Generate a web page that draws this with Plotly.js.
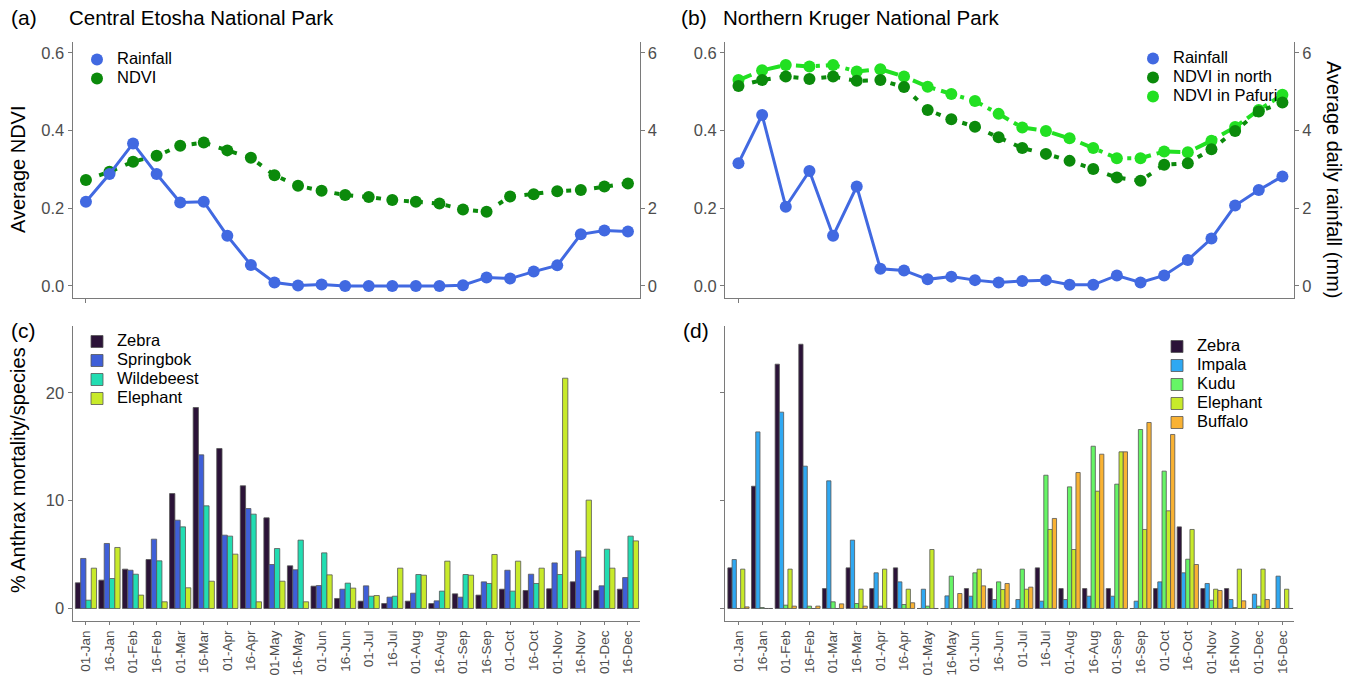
<!DOCTYPE html>
<html>
<head>
<meta charset="utf-8">
<script src="https://cdn.plot.ly/plotly-3.0.1.min.js"></script>
<style>html,body{margin:0;padding:0;background:#fff;}#chart{width:1351px;height:675px;}</style>
</head>
<body>
<div id="chart"></div>
<script>
// ---------- data ----------
const dates = ['01-Jan','16-Jan','01-Feb','16-Feb','01-Mar','16-Mar','01-Apr','16-Apr','01-May','16-May','01-Jun','16-Jun',
               '01-Jul','16-Jul','01-Aug','16-Aug','01-Sep','16-Sep','01-Oct','16-Oct','01-Nov','16-Nov','01-Dec','16-Dec'];

// Panel (a) Central Etosha
const etoshaRain = [2.17,2.88,3.67,2.88,2.15,2.17,1.29,0.54,0.09,0.01,0.04,0,0,0,0,0,0.02,0.22,0.19,0.37,0.53,1.33,1.43,1.40];
const etoshaNdvi = [0.273,0.294,0.320,0.335,0.361,0.369,0.349,0.330,0.285,0.258,0.245,0.234,0.229,0.221,0.217,0.212,0.197,0.191,0.230,0.236,0.244,0.247,0.256,0.264];

// Panel (b) Northern Kruger
const krugerRain = [3.16,4.40,2.04,2.96,1.29,2.56,0.44,0.40,0.17,0.24,0.15,0.09,0.13,0.15,0.03,0.03,0.27,0.09,0.27,0.67,1.22,2.07,2.47,2.82];
const ndviNorth  = [0.515,0.530,0.539,0.533,0.539,0.528,0.530,0.512,0.453,0.429,0.410,0.383,0.355,0.340,0.322,0.301,0.279,0.271,0.312,0.316,0.352,0.399,0.449,0.472];
const ndviPafuri = [0.530,0.555,0.569,0.565,0.569,0.552,0.558,0.539,0.513,0.494,0.476,0.443,0.408,0.399,0.380,0.355,0.329,0.329,0.346,0.344,0.374,0.409,0.453,0.492];

// Panel (c) Etosha anthrax mortality (%)
const zebraC      = [2.38,2.63,3.65,4.54,10.66,18.64,14.84,11.38,8.41,3.96,2.07,0.93,0.68,0.46,0.68,0.46,1.36,1.24,1.79,1.67,1.82,2.47,1.67,1.79];
const springbokC  = [4.64,6.03,3.55,6.43,8.19,14.25,6.80,9.27,4.08,3.59,2.13,1.79,2.10,1.05,1.42,0.71,1.05,2.47,3.55,3.18,4.23,5.35,2.10,2.87];
const wildebeestC = [0.77,2.78,3.18,4.42,7.57,9.52,6.71,8.75,5.56,6.34,5.16,2.35,1.14,1.14,3.15,1.61,3.15,2.32,1.61,2.32,3.15,4.76,5.50,6.71];
const elephantC   = [3.74,5.66,1.24,0.62,1.92,2.53,5.04,0.62,2.53,0.62,3.12,1.89,1.20,3.74,3.09,4.39,3.09,5.01,4.39,3.74,21.36,10.05,3.74,6.27];

// Panel (d) Kruger anthrax mortality (%)
const zebraD    = [3.77,11.34,22.66,24.51,1.85,3.77,1.85,3.77,0,0,1.85,1.85,0,3.77,1.85,1.85,1.85,0,1.85,7.57,1.85,1.85,0,0];
const impalaD   = [4.54,16.38,18.21,13.20,11.84,6.34,3.31,2.47,1.79,1.17,1.14,0.83,0.83,0.68,0.83,1.14,1.14,0.68,2.47,3.31,2.32,0.83,1.33,3.00];
const kuduD     = [0,0.09,0.31,0.22,0.62,0.46,0.22,0.37,0.22,3.00,3.31,2.47,3.65,12.36,11.28,15.05,11.53,16.60,12.74,4.57,0.77,0.09,0.22,0];
const elephantD = [3.65,0,3.65,0,0,1.79,3.65,1.79,5.47,0,3.65,1.76,1.79,7.33,5.47,10.88,14.53,7.33,9.06,7.33,1.79,3.65,3.65,1.79];
const buffaloD  = [0.15,0,0.22,0.22,0.43,0.22,0,0.53,0,1.39,2.10,2.32,1.98,8.35,12.61,14.31,14.53,17.25,16.14,4.08,1.67,0.71,0.83,0];

// ---------- styles ----------
const FONT = 'Liberation Sans, Arial, sans-serif';
const W = 1351, H = 675;
const px = v => v / W, py = v => 1 - v / H;
const idx = dates.map((d, i) => i);
const BLUE = '#4169E1', GREEN = '#0B8A0B', LGREEN = '#22E022';
const C = {zebra:'#2B1338', springbok:'#3F5FD8', wildebeest:'#22DDB2', elephant:'#C8EA2A',
           impala:'#2FA8F2', kudu:'#66F566', buffalo:'#F9B233'};
const OUT = '#555555';
const AX = '#7a7a7a', TK = '#4d4d4d';
const lg = s => '<span style="font-size:16.5px">' + s + '</span>';

const traces = [];
// (a)
traces.push({x: idx, y: etoshaNdvi, xaxis:'x', yaxis:'y', mode:'lines+markers', showlegend:false,
  line:{color:GREEN, width:4, dash:'5px,9px'}, marker:{color:GREEN, size:12}});
traces.push({x: idx, y: etoshaRain, xaxis:'x', yaxis:'y2', mode:'lines+markers', showlegend:false,
  line:{color:BLUE, width:3}, marker:{color:BLUE, size:12}});
traces.push({x:[null], y:[null], xaxis:'x', yaxis:'y', mode:'markers', name:lg('Rainfall'), legend:'legend', marker:{color:BLUE, size:12}});
traces.push({x:[null], y:[null], xaxis:'x', yaxis:'y', mode:'markers', name:lg('NDVI'), legend:'legend', marker:{color:GREEN, size:12}});
// (b)
traces.push({x: idx, y: ndviPafuri, xaxis:'x2', yaxis:'y3', mode:'lines+markers', showlegend:false,
  line:{color:LGREEN, width:4, dash:'14px,6px,4px,6px'}, marker:{color:LGREEN, size:12}});
traces.push({x: idx, y: ndviNorth, xaxis:'x2', yaxis:'y3', mode:'lines+markers', showlegend:false,
  line:{color:GREEN, width:4, dash:'5px,9px'}, marker:{color:GREEN, size:12}});
traces.push({x: idx, y: krugerRain, xaxis:'x2', yaxis:'y4', mode:'lines+markers', showlegend:false,
  line:{color:BLUE, width:3}, marker:{color:BLUE, size:12}});
traces.push({x:[null], y:[null], xaxis:'x2', yaxis:'y3', mode:'markers', name:lg('Rainfall'), legend:'legend2', marker:{color:BLUE, size:12}});
traces.push({x:[null], y:[null], xaxis:'x2', yaxis:'y3', mode:'markers', name:lg('NDVI in north'), legend:'legend2', marker:{color:GREEN, size:12}});
traces.push({x:[null], y:[null], xaxis:'x2', yaxis:'y3', mode:'markers', name:lg('NDVI in Pafuri'), legend:'legend2', marker:{color:LGREEN, size:12}});
// (c)
[['Zebra', zebraC, C.zebra], ['Springbok', springbokC, C.springbok], ['Wildebeest', wildebeestC, C.wildebeest], ['Elephant', elephantC, C.elephant]]
.forEach(([n, v, c]) => traces.push({type:'bar', x: idx, y: v, name: lg(n), xaxis:'x3', yaxis:'y5', legend:'legend3',
  marker:{color:c, line:{color:OUT, width:0.8}}}));
// (d)
[['Zebra', zebraD, C.zebra], ['Impala', impalaD, C.impala], ['Kudu', kuduD, C.kudu], ['Elephant', elephantD, C.elephant], ['Buffalo', buffaloD, C.buffalo]]
.forEach(([n, v, c]) => traces.push({type:'bar', x: idx, y: v, name: lg(n), xaxis:'x4', yaxis:'y7', legend:'legend4',
  marker:{color:c, line:{color:OUT, width:0.8}}}));

// ---------- axes ----------
const XR = [-0.57, 23.49];
const dxL = [px(72.5), px(639.5)], dxR = [px(725), px(1294)];
const dyT = [py(298), py(42)], dyB = [py(621), py(326)];
const tickfont = {family: FONT, size: 16.5, color: TK};
const base = {showgrid:false, zeroline:false, showline:true, linecolor:AX, linewidth:1, ticks:'outside', ticklen:4, tickcolor:AX, tickfont};
const xTop = Object.assign({}, base, {range:XR, tickmode:'array', tickvals:[0], ticktext:[''], fixedrange:true});
const xBot = Object.assign({}, base, {range:XR, tickmode:'array', tickvals:idx, ticktext:dates, tickangle:-90, ticklen:3,
  tickfont:{family:FONT, size:13.5, color:TK}});
const ndviAx = Object.assign({}, base, {range:[-0.031, 0.628], tickmode:'array', tickvals:[0,0.2,0.4,0.6], ticktext:['0.0','0.2','0.4','0.6']});
const rainAx = Object.assign({}, base, {range:[-0.31, 6.28], tickmode:'array', tickvals:[0,2,4,6], side:'right'});
const barAx = Object.assign({}, base, {range:[-1.16, 26.2], tickmode:'array', tickvals:[0,10,20]});

const lgBase = {xanchor:'left', yanchor:'top', bgcolor:'rgba(0,0,0,0)', font:{family:FONT, size:12, color:'#000'}, tracegroupgap:0, itemwidth:30};
const layout = {
  width: W, height: H, margin:{l:0, r:0, t:0, b:0},
  paper_bgcolor:'#fff', plot_bgcolor:'rgba(0,0,0,0)',
  font:{family: FONT, color:'#000'},
  barmode:'group', bargap:0.1, bargroupgap:0,
  xaxis:  Object.assign({}, xTop, {domain:dxL, anchor:'y'}),
  yaxis:  Object.assign({}, ndviAx, {domain:dyT, anchor:'x'}),
  yaxis2: Object.assign({}, rainAx, {overlaying:'y', anchor:'x'}),
  xaxis2: Object.assign({}, xTop, {domain:dxR, anchor:'y3'}),
  yaxis3: Object.assign({}, ndviAx, {domain:dyT, anchor:'x2'}),
  yaxis4: Object.assign({}, rainAx, {overlaying:'y3', anchor:'x2'}),
  xaxis3: Object.assign({}, xBot, {domain:dxL, anchor:'y5'}),
  yaxis5: Object.assign({}, barAx, {domain:dyB, anchor:'x3'}),
  yaxis6: Object.assign({}, barAx, {overlaying:'y5', anchor:'x3', side:'right'}),
  xaxis4: Object.assign({}, xBot, {domain:dxR, anchor:'y7'}),
  yaxis7: Object.assign({}, barAx, {domain:dyB, anchor:'x4', showticklabels:false}),
  yaxis8: Object.assign({}, barAx, {overlaying:'y7', anchor:'x4', side:'right'}),
  legend:  Object.assign({}, lgBase, {x:px(77),   y:py(45)}),
  legend2: Object.assign({}, lgBase, {x:px(1133), y:py(44)}),
  legend3: Object.assign({}, lgBase, {x:px(77),   y:py(327)}),
  legend4: Object.assign({}, lgBase, {x:px(1157), y:py(332)}),
  annotations: [
    {text:'(a)', x:px(9), y:py(18), xref:'paper', yref:'paper', xanchor:'left', yanchor:'middle', showarrow:false, font:{size:21}},
    {text:'Central Etosha National Park', x:px(67), y:py(18), xref:'paper', yref:'paper', xanchor:'left', yanchor:'middle', showarrow:false, font:{size:20.5}},
    {text:'(b)', x:px(679), y:py(18), xref:'paper', yref:'paper', xanchor:'left', yanchor:'middle', showarrow:false, font:{size:21}},
    {text:'Northern Kruger National Park', x:px(721), y:py(18), xref:'paper', yref:'paper', xanchor:'left', yanchor:'middle', showarrow:false, font:{size:20.5}},
    {text:'(c)', x:px(9), y:py(330), xref:'paper', yref:'paper', xanchor:'left', yanchor:'middle', showarrow:false, font:{size:21}},
    {text:'(d)', x:px(681), y:py(330), xref:'paper', yref:'paper', xanchor:'left', yanchor:'middle', showarrow:false, font:{size:21}},
    {text:'Average NDVI', x:px(18), y:py(170), xref:'paper', yref:'paper', xanchor:'center', yanchor:'middle', textangle:-90, showarrow:false, font:{size:20}},
    {text:'% Anthrax mortality/species', x:px(18), y:py(470), xref:'paper', yref:'paper', xanchor:'center', yanchor:'middle', textangle:-90, showarrow:false, font:{size:20}},
    {text:'Average daily rainfall (mm)', x:px(1334), y:py(180), xref:'paper', yref:'paper', xanchor:'center', yanchor:'middle', textangle:90, showarrow:false, font:{size:20}}
  ]
};

Plotly.newPlot('chart', traces, layout, {staticPlot:true, displayModeBar:false});
</script>
</body>
</html>
